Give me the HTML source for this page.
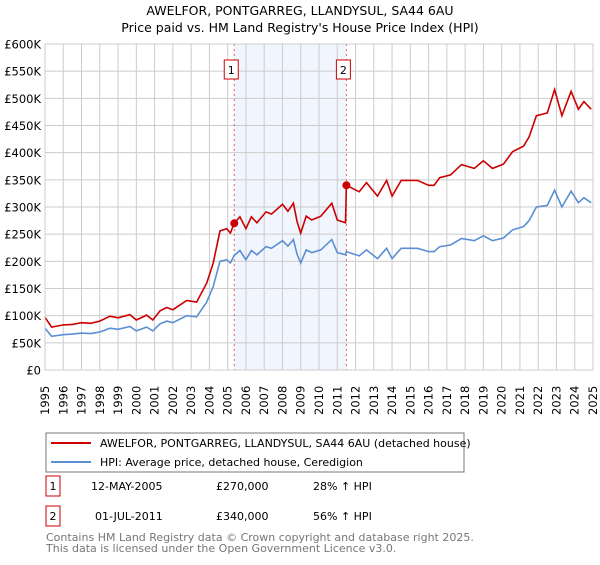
<!DOCTYPE html>
<html><head><meta charset="utf-8"><style>
body{margin:0;background:#fff;font-family:"Liberation Sans","DejaVu Sans",sans-serif;}
svg text{font-family:"DejaVu Sans","Liberation Sans",sans-serif;}
</style></head><body>
<svg id="chart" width="600" height="560" xmlns="http://www.w3.org/2000/svg">
<text x="300" y="15" text-anchor="middle" font-size="12.5">AWELFOR, PONTGARREG, LLANDYSUL, SA44 6AU</text>
<text x="300" y="32" text-anchor="middle" font-size="12.5">Price paid vs. HM Land Registry's House Price Index (HPI)</text>
<g id="plot"></g>
<g>
<rect x="46" y="433" width="418" height="39" fill="#fff" stroke="#777"/>
<line x1="51" y1="443" x2="91" y2="443" stroke="#cc0000" stroke-width="2"/>
<text x="100" y="447" font-size="11">AWELFOR, PONTGARREG, LLANDYSUL, SA44 6AU (detached house)</text>
<line x1="51" y1="462" x2="91" y2="462" stroke="#5b8fd4" stroke-width="2"/>
<text x="100" y="466" font-size="11">HPI: Average price, detached house, Ceredigion</text>
</g>
<g font-size="11">
<rect x="46" y="476" width="14" height="20" fill="#fff" stroke="#cc0000"/><text x="53" y="490" text-anchor="middle">1</text>
<text x="91" y="490">12-MAY-2005</text><text x="216" y="490">£270,000</text><text x="313" y="490">28% ↑ HPI</text>
<rect x="46" y="506" width="14" height="20" fill="#fff" stroke="#cc0000"/><text x="53" y="520" text-anchor="middle">2</text>
<text x="95" y="520">01-JUL-2011</text><text x="216" y="520">£340,000</text><text x="313" y="520">56% ↑ HPI</text>
</g>
<text x="46" y="541" font-size="11" fill="#777">Contains HM Land Registry data © Crown copyright and database right 2025.</text>
<text x="46" y="552" font-size="11" fill="#777">This data is licensed under the Open Government Licence v3.0.</text>
</svg>
<script>
const years=[1995,1996,1997,1998,1999,2000,2001,2002,2003,2004,2005,2006,2007,2008,2009,2010,2011,2012,2013,2014,2015,2016,2017,2018,2019,2020,2021,2022,2023,2024,2025];
const yTicks=[0,50,100,150,200,250,300,350,400,450,500,550,600];
const yTickLabels=["£0","£50K","£100K","£150K","£200K","£250K","£300K","£350K","£400K","£450K","£500K","£550K","£600K"];
const dates=[1995.0,1995.36,1996.0,1996.5,1997.0,1997.5,1998.0,1998.56,1999.0,1999.65,2000.0,2000.56,2000.9,2001.3,2001.66,2002.0,2002.76,2003.3,2003.85,2004.2,2004.58,2004.95,2005.15,2005.36,2005.67,2006.0,2006.3,2006.6,2007.1,2007.4,2008.0,2008.3,2008.6,2008.8,2009.0,2009.3,2009.6,2010.1,2010.7,2011.0,2011.45,2011.5,2012.2,2012.6,2013.2,2013.7,2014.0,2014.5,2015.4,2016.0,2016.3,2016.6,2017.2,2017.8,2018.5,2019.0,2019.5,2020.1,2020.6,2021.2,2021.5,2021.9,2022.5,2022.9,2023.3,2023.8,2024.2,2024.5,2024.9];
const hpi=[77,62,65,66,68,67,70,77,75,80,72,79,72,85,90,87,100,98,125,153,200,203,197,211,220,203,220,212,227,224,238,228,240,213,197,221,216,221,240,216,212,218,210,221,205,224,205,224,224,218,218,227,230,242,238,247,238,243,258,264,275,300,303,331,300,329,308,317,308];
const paid=[97,79,83,84,87,86,90,99,96,102,92,101,92,109,115,111,128,125,160,196,256,260,252,270,282,260,282,271,291,287,305,292,307,273,252,283,276,283,307,276,271,340,328,345,320,349,320,349,349,340,340,354,359,378,371,385,371,379,402,412,429,468,473,516,468,513,480,494,480];
const saleDates=[2005.36,2011.5];
const saleValues=[270,340];
const saleLabels=["1","2"];

const L=45,R=593,T=44,B=370;
const xs=t=>L+(t-1995)/30*(R-L);
const ys=v=>B-v/600*(B-T);
const NS="http://www.w3.org/2000/svg";
const g=document.getElementById('plot');
function mk(tag,attrs,parent){const e=document.createElementNS(NS,tag);for(const k in attrs)e.setAttribute(k,attrs[k]);(parent||g).appendChild(e);return e;}

const shade=mk('rect',{x:xs(saleDates[0]),y:T,width:xs(saleDates[1])-xs(saleDates[0]),height:B-T,fill:'#eef3fd',opacity:0.8});



years.forEach(y=>{
  const l=mk('line',{x1:xs(y),x2:xs(y),y1:T,y2:B,stroke:'#cccccc','stroke-width':1});
  
  
  const tx=mk('text',{transform:`translate(${xs(y)+4},${B+45}) rotate(-90)`,'font-size':'11.5'});
  tx.textContent=y;
  
  
});
yTicks.forEach((v,i)=>{
  const l=mk('line',{x1:L,x2:R,y1:ys(v),y2:ys(v),stroke:'#cccccc','stroke-width':1});
  
  
  const tx=mk('text',{x:L-4,y:ys(v)+4.5,'text-anchor':'end','font-size':'11.5'});
  tx.textContent=yTickLabels[i];
  
  
});
const edge=mk('line',{x1:R,x2:R,y1:T,y2:B,stroke:'#888','stroke-width':1});



saleDates.forEach((d,i)=>{
  const l=mk('line',{x1:xs(d),x2:xs(d),y1:T,y2:B,stroke:'#e86060','stroke-width':1,'stroke-dasharray':'2,3'});
  
  
  const r=mk('rect',{x:xs(d)-10,y:60,width:14,height:19,fill:'#fff',stroke:'#cc0000'});
  
  
  const tx=mk('text',{x:xs(d)-3,y:74,'text-anchor':'middle','font-size':'11'});
  tx.textContent=saleLabels[i];
  
  
});

const pts=arr=>arr.map((v,i)=>xs(dates[i]).toFixed(1)+','+ys(v).toFixed(1)).join(' ');
const hl=mk('polyline',{points:pts(hpi),fill:'none',stroke:'#5b8fd4','stroke-width':1.6});


const pl=mk('polyline',{points:pts(paid),fill:'none',stroke:'#cc0000','stroke-width':1.6});


saleDates.forEach((d,i)=>{
  const c=mk('circle',{cx:xs(d),cy:ys(saleValues[i]),r:4,fill:'#cc0000'});
  
  
});
const frame=mk('rect',{x:L,y:T,width:R-L,height:B-T,fill:'none',stroke:'#cccccc'});


</script>
</body></html>
